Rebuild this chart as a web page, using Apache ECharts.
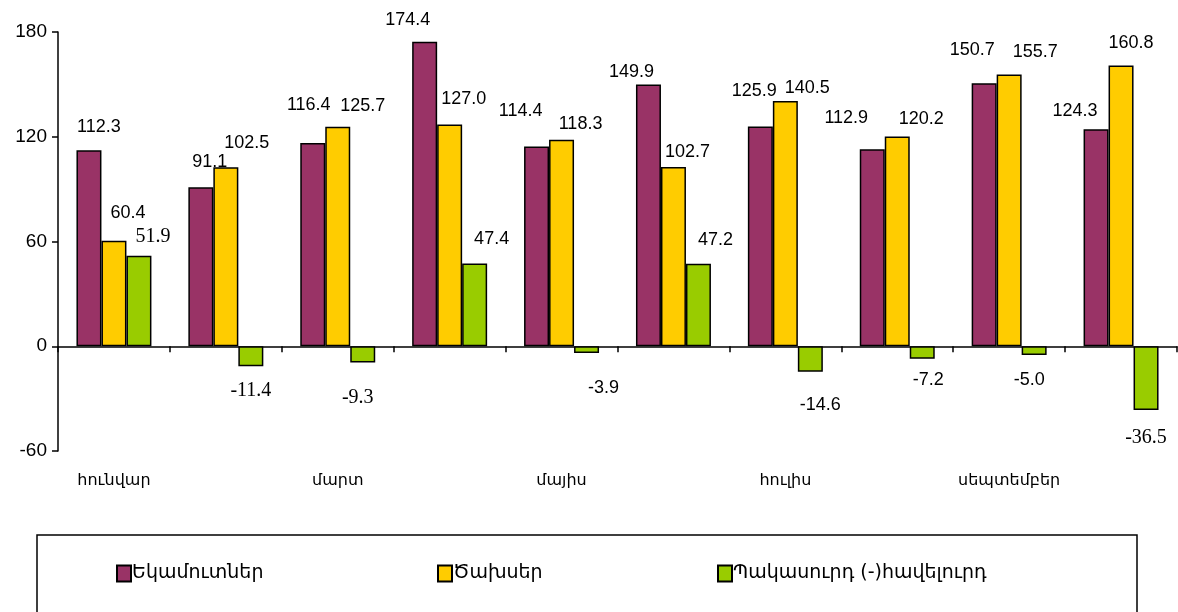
<!DOCTYPE html>
<html><head><meta charset="utf-8">
<script src="https://cdn.jsdelivr.net/npm/echarts@6/dist/echarts.min.js"></script>
<style>html,body{margin:0;padding:0;background:#fff}#c{width:1178px;height:612px}</style>
</head><body><div id="c"></div>
<script>
const categories = ['հունվար','փետրվար','մարտ','ապրիլ','մայիս','հունիս','հուլիս','օգոստոս','սեպտեմբեր','հոկտեմբեր'];
const seriesNames = ['Եկամուտներ','Ծախսեր','Պակասուրդ (-)հավելուրդ'];
const income = [112.3, 91.1, 116.4, 174.4, 114.4, 149.9, 125.9, 112.9, 150.7, 124.3];
const expenses = [60.4, 102.5, 125.7, 127.0, 118.3, 102.7, 140.5, 120.2, 155.7, 160.8];
const balance = [51.9, -11.4, -9.3, 47.4, -3.9, 47.2, -14.6, -7.2, -5.0, -36.5];
const yTicks = [-60, 0, 60, 120, 180];

// label placement (style only): [dx, dy] of label centre from bar end
const labelShift = [
  [[10,-23],[9,-25],[-4,-38],[-17,-22],[-16,-35],[-17,-13],[-6,-35],[-26,-31],[-12,-33],[-21,-18]],
  [[14,-28],[21,-24],[25,-21],[14,-25],[19,-16],[14,-15],[22,-13],[24,-17],[26,-22],[10,-22]],
  [[14,-18],[0,24],[-5,34],[17,-24],[17,35],[17,-24],[10,33],[6,21],[-5,25],[0,27]]
];
const serifLabels = [[], [], [0, 1, 2, 9]];

const armFont = 'DejaVu Sans';
const numFont = 'Liberation Sans';
const colors = ['#993366', '#FFCC00', '#99CC00'];
const H = 9;

function mk(i, arr) {
  return {
    name: seriesNames[i], type: 'bar',
    barGap: '0%', barCategoryGap: '33%',
    itemStyle: { color: colors[i], borderColor: '#000', borderWidth: 1.5 },
    label: { show: true, fontFamily: numFont, fontSize: 18, color: '#000', distance: 0,
      formatter: p => p.value.toFixed(1) },
    data: arr.map((v, k) => {
      const [dx, dy] = labelShift[i][k];
      const neg = v < 0;
      const serif = serifLabels[i].includes(k);
      return {
        value: v,
        label: {
          position: neg ? 'bottom' : 'top',
          offset: [dx, neg ? dy - H : dy + H],
          fontFamily: serif ? 'Liberation Serif' : numFont,
          fontSize: serif ? 20 : 18
        }
      };
    })
  };
}

const chart = echarts.init(document.getElementById('c'), null, { renderer: 'canvas' });
chart.setOption({
  animation: false,
  grid: { left: 58, right: 1, top: 32, bottom: 161, containLabel: false },
  xAxis: [{
    type: 'category', data: categories, position: 'bottom',
    axisLine: { onZero: true, lineStyle: { color: '#000', width: 1.5 } },
    axisTick: { show: true, length: 6, lineStyle: { color: '#000', width: 1.5 } },
    axisLabel: { show: false }
  }, {
    type: 'category', data: categories, position: 'bottom',
    axisLine: { show: false, onZero: false }, axisTick: { show: false },
    axisLabel: { interval: 1, margin: 22, fontFamily: armFont, fontSize: 16, color: '#000' }
  }],
  yAxis: {
    type: 'value', min: yTicks[0], max: yTicks[yTicks.length - 1], interval: 60,
    splitLine: { show: false },
    axisLine: { show: true, lineStyle: { color: '#000', width: 1.5 } },
    axisTick: { show: true, length: 6, lineStyle: { color: '#000', width: 1.5 } },
    axisLabel: { fontFamily: numFont, fontSize: 19, color: '#000', margin: 11 }
  },
  legend: seriesNames.map((n, i) => ({
    data: [n], left: [116, 437, 717][i], top: 564, icon: 'rect', padding: 0,
    itemWidth: 14, itemHeight: 16, itemGap: 4,
    textStyle: { fontFamily: armFont, fontSize: 19, color: '#000', padding: [0, 0, 0, -4] },
    selectedMode: false
  })),
  graphic: [{
    type: 'rect', shape: { x: 37, y: 535, width: 1100, height: 100 },
    style: { fill: 'none', stroke: '#000', lineWidth: 1.5 }, silent: true
  }],
  series: [mk(0, income), mk(1, expenses), mk(2, balance)]
});
</script></body></html>
